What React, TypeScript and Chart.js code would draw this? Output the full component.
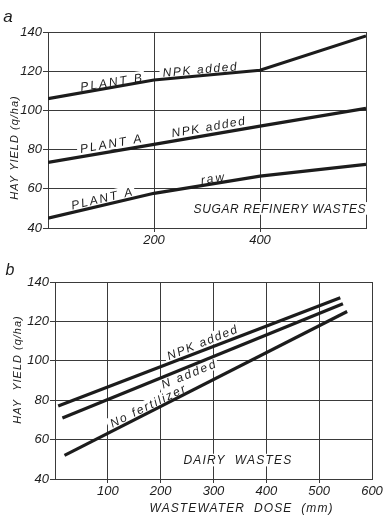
import React, { useEffect, useRef } from "react";
import { Chart, registerables } from "chart.js";

Chart.register(...registerables);

// ---- Panel a: sugar refinery wastes (dose in mm, yield in q/ha) ----
const doseA = [0, 200, 400, 600];
const plantBNpk = [106, 115.5, 120.5, 138];
const plantANpk = [73.5, 82.7, 92, 101];
const plantARaw = [45, 57.7, 66.5, 72.5];
const xLabelsA = [200, 400];

// ---- Panel b: dairy wastes ----
const doseNpk = [6, 540];
const yieldNpk = [77, 132];
const doseN = [14, 545];
const yieldN = [71, 129];
const doseNone = [18, 553];
const yieldNone = [52, 125];
const xLabelsB = [100, 200, 300, 400, 500, 600];

const yMin = 40;
const yMax = 140;
const yStep = 20;

const FONT = "'Liberation Sans', Arial, sans-serif";
const INK = "#1c1c1c";
const GRID = "#3a3a3a";

type InPlotText = { text: string; x: number; y: number; angle: number; size: number; spacing: number };
type PageText = { text: string; px: number; py: number; angle: number; size: number; spacing: number };

// Labels placed on the plot in data units
const plotTextA: InPlotText[] = [
  { text: "PLANT B", x: 119, y: 114.5, angle: -9, size: 12, spacing: 2 },
  { text: "NPK added", x: 286, y: 121, angle: -5, size: 12, spacing: 1.6 },
  { text: "PLANT A", x: 118, y: 83.2, angle: -10, size: 12, spacing: 2 },
  { text: "NPK added", x: 302, y: 91.7, angle: -10, size: 12, spacing: 1.6 },
  { text: "PLANT A", x: 101, y: 55.2, angle: -13, size: 12, spacing: 2 },
  { text: "raw", x: 310, y: 65.4, angle: -9, size: 12, spacing: 2 },
  { text: "SUGAR REFINERY WASTES", x: 437, y: 50, angle: 0, size: 12, spacing: 0.6 },
];

const plotTextB: InPlotText[] = [
  { text: "NPK added", x: 278, y: 109.4, angle: -22, size: 12, spacing: 1.6 },
  { text: "N added", x: 252, y: 93.3, angle: -22, size: 12, spacing: 2 },
  { text: "No fertilizer", x: 175, y: 77.2, angle: -26, size: 12, spacing: 1.8 },
  { text: "DAIRY  WASTES", x: 345, y: 49.6, angle: 0, size: 12, spacing: 1.2 },
];

const pageTextA: PageText[] = [
  { text: "a", px: 8, py: 16, angle: 0, size: 17, spacing: 0 },
  { text: "HAY YIELD (q/ha)", px: 14, py: 148, angle: -90, size: 11, spacing: 1 },
];

const pageTextB: PageText[] = [
  { text: "b", px: 10, py: 19, angle: 0, size: 16, spacing: 0 },
  { text: "HAY  YIELD (q/ha)", px: 17, py: 120, angle: -90, size: 11, spacing: 1 },
  { text: "WASTEWATER  DOSE  (mm)", px: 241, py: 258, angle: 0, size: 12, spacing: 1.1 },
];

function drawText(ctx: CanvasRenderingContext2D, t: { text: string; angle: number; size: number; spacing: number }, px: number, py: number, clear: boolean) {
  ctx.save();
  ctx.translate(px, py);
  ctx.rotate((t.angle * Math.PI) / 180);
  ctx.font = `italic ${t.size}px ${FONT}`;
  (ctx as any).letterSpacing = `${t.spacing}px`;
  const w = ctx.measureText(t.text).width - t.spacing;
  const cap = t.size * 0.72;
  if (clear) {
    ctx.fillStyle = "#ffffff";
    ctx.fillRect(-w / 2 - 3, -cap / 2 - 2, w + 6, cap + 4);
  }
  ctx.fillStyle = INK;
  ctx.textAlign = "left";
  ctx.textBaseline = "alphabetic";
  ctx.fillText(t.text, -w / 2, cap / 2);
  ctx.restore();
}

function textPlugin(id: string, inPlot: InPlotText[], page: PageText[]) {
  return {
    id,
    beforeDatasetsDraw(chart: any) {
      const { ctx, scales } = chart;
      inPlot.forEach((t) => {
        drawText(ctx, t, scales.x.getPixelForValue(t.x), scales.y.getPixelForValue(t.y), true);
      });
    },
    afterDraw(chart: any) {
      const { ctx } = chart;
      page.forEach((t) => drawText(ctx, t, t.px, t.py, false));
    },
  };
}

const tickFont = { family: FONT, style: "italic" as const, size: 13 };

function makeOptions(opts: {
  padRight: number;
  yWidth: number;
  xHeight: number;
  xStep: number;
  xLabels: number[];
}) {
  return {
    responsive: false,
    maintainAspectRatio: false,
    animation: false as const,
    layout: { padding: { top: 32, right: opts.padRight, left: 0, bottom: 0 } },
    plugins: {
      legend: { display: false },
      tooltip: { enabled: false },
      title: { display: false },
    },
    elements: {
      point: { radius: 0 },
      line: { borderWidth: 3.2, borderColor: INK, tension: 0, borderCapStyle: "butt" as const },
    },
    scales: {
      x: {
        type: "linear" as const,
        min: 0,
        max: 600,
        ticks: {
          stepSize: opts.xStep,
          autoSkip: false,
          maxRotation: 0,
          padding: 1,
          color: INK,
          font: tickFont,
          callback: (v: any) => (opts.xLabels.includes(Number(v)) ? String(v) : ""),
        },
        grid: {
          color: GRID,
          lineWidth: 1,
          tickLength: 4,
          tickColor: (c: any) =>
            c.tick && c.tick.value > 0 && c.tick.value < 600 ? GRID : "rgba(0,0,0,0)",
        },
        border: { color: GRID, width: 1 },
        afterFit: (s: any) => {
          s.height = opts.xHeight;
        },
      },
      y: {
        type: "linear" as const,
        min: yMin,
        max: yMax,
        ticks: { stepSize: yStep, padding: 1, color: INK, font: tickFont },
        grid: { color: GRID, lineWidth: 1, tickLength: 5, tickColor: GRID },
        border: { color: GRID, width: 1 },
        afterFit: (s: any) => {
          s.width = opts.yWidth;
        },
      },
    },
  };
}

const pts = (xs: number[], ys: number[]) => xs.map((x, i) => ({ x, y: ys[i] }));

function Panel({ height, config }: { height: number; config: () => any }) {
  const ref = useRef<HTMLCanvasElement | null>(null);
  useEffect(() => {
    if (!ref.current) return;
    const chart = new Chart(ref.current, config());
    return () => chart.destroy();
  }, [config]);
  return <canvas ref={ref} width={384} height={height} style={{ display: "block", width: 384, height }} />;
}

const configA = () => ({
  type: "line" as const,
  data: {
    datasets: [
      { label: "Plant B, NPK added", data: pts(doseA, plantBNpk) },
      { label: "Plant A, NPK added", data: pts(doseA, plantANpk) },
      { label: "Plant A, raw", data: pts(doseA, plantARaw) },
    ],
  },
  options: makeOptions({ padRight: 18, yWidth: 48, xHeight: 22, xStep: 200, xLabels: xLabelsA }),
  plugins: [textPlugin("panelAText", plotTextA, pageTextA)],
});

const configB = () => ({
  type: "line" as const,
  data: {
    datasets: [
      { label: "NPK added", data: pts(doseNpk, yieldNpk) },
      { label: "N added", data: pts(doseN, yieldN) },
      { label: "No fertilizer", data: pts(doseNone, yieldNone) },
    ],
  },
  options: makeOptions({ padRight: 12, yWidth: 55, xHeight: 37, xStep: 100, xLabels: xLabelsB }),
  plugins: [textPlugin("panelBText", plotTextB, pageTextB)],
});

export default function App() {
  return (
    <div style={{ position: "absolute", left: 0, top: 0, width: 384, height: 516, background: "#fff" }}>
      <div style={{ position: "absolute", left: 0, top: 0 }}>
        <Panel height={250} config={configA} />
      </div>
      <div style={{ position: "absolute", left: 0, top: 250 }}>
        <Panel height={266} config={configB} />
      </div>
    </div>
  );
}
